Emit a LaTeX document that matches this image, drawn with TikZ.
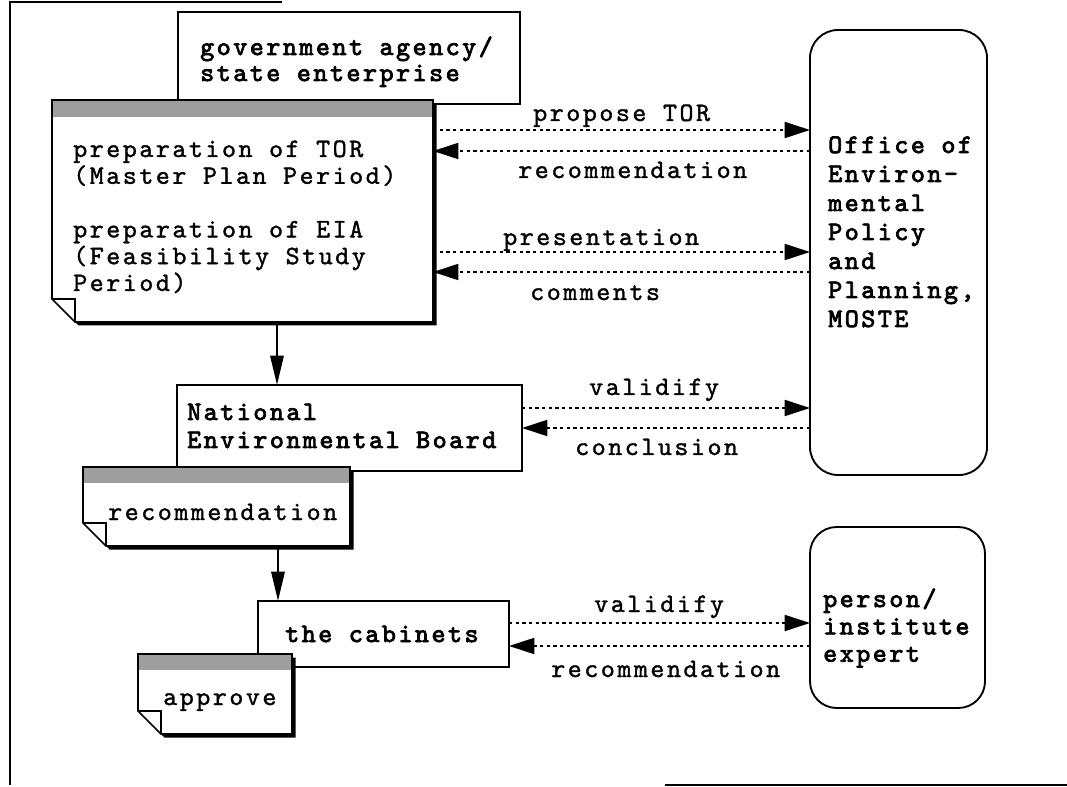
\documentclass[tikz,border=0pt]{standalone}
\usepackage{fontspec}
\newfontfamily\twreg{lmmono10-regular.otf}[FakeBold=1.3,LetterSpace=9.5]
\newfontfamily\twbold{lmmono10-regular.otf}[FakeBold=3,LetterSpace=9.5]
\usetikzlibrary{arrows.meta,fit}
\colorlet{bandgray}{black!38}
\newcommand\docpage[6]{%
  \fill[black] (#1+3.5,#2+3.5) -- (#3+3.5,#2+3.5) -- (#3+3.5,#4+3.5) -- (#1+#5+3.5,#4+3.5) -- (#1+3.5,#4-#5+3.5) -- cycle;
  \fill[white] (#1,#2) -- (#3,#2) -- (#3,#4) -- (#1+#5,#4) -- (#1,#4-#5) -- cycle;
  \fill[bandgray] (#1,#2) rectangle (#3,#2+#6);
  \draw[line width=1.3pt, line join=miter] (#1,#2) -- (#3,#2) -- (#3,#4) -- (#1+#5,#4) -- (#1,#4-#5) -- cycle;
  \draw[line width=1.3pt] (#1,#4-#5) -- (#1+#5,#4-#5) -- (#1+#5,#4);
}
\begin{document}
\begin{tikzpicture}[x=0.75pt,y=-0.75pt,
  frame/.style={draw, line width=2pt},
  box/.style={draw, line width=1.4pt, fill=white, inner sep=0pt, outer sep=0pt},
  area/.style={inner sep=0pt, outer sep=0pt},
  lbl/.style={inner sep=0pt, anchor=base west, font=\twreg\fontsize{20}{20.25}\selectfont},
  bx/.style={inner sep=0pt, anchor=base west, font=\twbold\fontsize{20}{20.25}\selectfont},
  dar/.style={line width=1.4pt, dash pattern=on 2.5pt off 2.5pt, -{Triangle[length=19pt,width=12pt]}},
  sar/.style={line width=1.6pt, -{Triangle[length=22pt,width=10pt]}},
]
\useasboundingbox (0,0) rectangle (1067,787);
\fill[white] (0,0) rectangle (1067,787);

% outer frame
\draw[frame] (282,2) -- (10,2) -- (10,785);
\draw[frame] (665,785) -- (1067,785);

% government agency box
\node[box, fit={(178,12)(520,104)}] (gov) {};
\node[bx, font=\twbold\fontsize{20}{19.5}\selectfont] (govt) at (200,55)
  {\vtop{\hbox{government agency/}\hbox{state enterprise}}};

% TOR / EIA document
\docpage{52}{100}{433}{322}{23}{17}
\node[area, fit={(52,100)(433,322)}] (tor) {};
\node[lbl, font=\twreg\fontsize{20}{20.1}\selectfont] (tort) at (73,157)
  {\vtop{\hbox{preparation of TOR}\hbox{(Master Plan Period)}\hbox{}\hbox{preparation of EIA}\hbox{(Feasibility Study}\hbox{Period)}}};

% Office box
\node[box, rounded corners=21pt, fit={(810,30)(987,475)}] (office) {};
\node[bx, font=\twbold\fontsize{20}{21.75}\selectfont] (officet) at (828,153)
  {\vtop{\hbox{Office of}\hbox{Environ-}\hbox{mental}\hbox{Policy}\hbox{and}\hbox{Planning,}\hbox{MOSTE}}};

% National Environmental Board
\node[box, fit={(177,385)(522,471)}] (neb) {};
\node[bx, font=\twbold\fontsize{20}{21}\selectfont] (nebt) at (187,420)
  {\vtop{\hbox{National}\hbox{Environmental Board}}};

% recommendation document
\docpage{83}{467}{350}{546}{23}{16}
\node[area, fit={(83,467)(350,546)}] (rec) {};
\node[lbl] (rect) at (108,520) {recommendation};

% cabinets
\node[box, fit={(258,601)(509,667)}] (cab) {};
\node[bx] (cabt) at (285,642) {the cabinets};

% approve document
\docpage{138}{654}{292}{734}{23}{16}
\node[area, fit={(138,654)(292,734)}] (app) {};
\node[lbl] (appt) at (163,705) {approve};

% person / institute expert
\node[box, rounded corners=20pt, fit={(810,527)(985,708)}] (person) {};
\node[bx, font=\twbold\fontsize{20}{20.5}\selectfont] (persont) at (823,607)
  {\vtop{\hbox{person/}\hbox{institute}\hbox{expert}}};

% vertical flow arrows
\draw[sar] (tor.south -| 277,0) -- (neb.north -| 277,0);
\draw[sar] (rec.south -| 278,0) -- (cab.north -| 278,0);

% exchanges with the Office
\draw[dar] (tor.east |- 0,130) -- (office.west |- 0,130);
\draw[dar] (office.west |- 0,151) -- (tor.east |- 0,151);
\node[lbl] (l1) at (533,121) {propose TOR};
\node[lbl] (l2) at (518,178) {recommendation};

\draw[dar] (tor.east |- 0,252) -- (office.west |- 0,252);
\draw[dar] (office.west |- 0,272) -- (tor.east |- 0,272);
\node[lbl] (l3) at (503,245) {presentation};
\node[lbl] (l4) at (530,300) {comments};

\draw[dar] (neb.east |- 0,408) -- (office.west |- 0,408);
\draw[dar] (office.west |- 0,428) -- (neb.east |- 0,428);
\node[lbl] (l5) at (589,395) {validify};
\node[lbl] (l6) at (575,455) {conclusion};

% exchanges with the expert
\draw[dar] (cab.east |- 0,623) -- (person.west |- 0,623);
\draw[dar] (person.west |- 0,646) -- (cab.east |- 0,646);
\node[lbl] (l7) at (594,612) {validify};
\node[lbl] (l8) at (551,677) {recommendation};
\end{tikzpicture}
\end{document}
